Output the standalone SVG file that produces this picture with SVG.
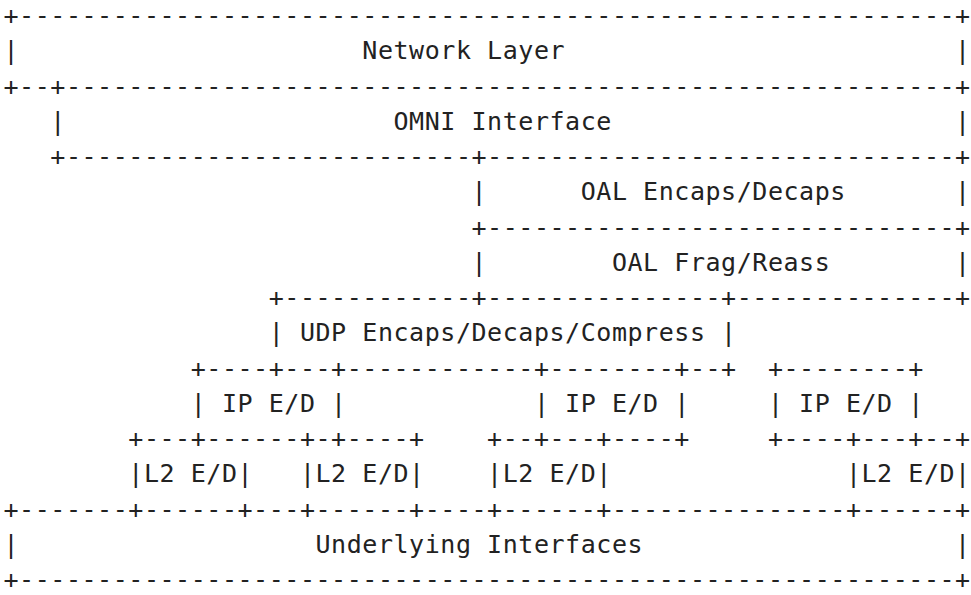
<svg xmlns="http://www.w3.org/2000/svg" width="971" height="595" viewBox="0 0 971 595">
<style>
text { font-family: "DejaVu Sans Mono", "Liberation Mono", monospace; font-size: 25px; letter-spacing: 0.549px; fill: #222; white-space: pre; }
</style>
<rect width="971" height="595" fill="#ffffff"/>
<g id="connectors">
<text x="3.5" y="24.2">+------------------------------------------------------------+</text>
<text x="3.5" y="94.7">+--+---------------------------------------------------------+</text>
<text x="50.3" y="165.2">+--------------------------+------------------------------+</text>
<text x="471.5" y="235.7">+------------------------------+</text>
<text x="268.7" y="306.2">+------------+---------------+--------------+</text>
<text x="190.7" y="376.7">+----+---+------------+--------+--+</text>
<text x="767.9" y="376.7">+--------+</text>
<text x="128.3" y="447.2">+---+------+-+----+</text>
<text x="487.1" y="447.2">+--+---+----+</text>
<text x="767.9" y="447.2">+----+---+--+</text>
<text x="3.5" y="517.7">+-------+------+---+------+----+------+---------------+------+</text>
<text x="3.5" y="588.2">+------------------------------------------------------------+</text>
</g>
<g id="network-layer">
<text x="3.5" y="59.45">|</text>
<text x="362.3" y="59.45">Network Layer</text>
<text x="955.1" y="59.45">|</text>
</g>
<g id="omni-interface">
<text x="50.3" y="129.95">|</text>
<text x="393.5" y="129.95">OMNI Interface</text>
<text x="955.1" y="129.95">|</text>
</g>
<g id="oal-encaps-decaps">
<text x="471.5" y="200.45">|</text>
<text x="580.7" y="200.45">OAL Encaps/Decaps</text>
<text x="955.1" y="200.45">|</text>
</g>
<g id="oal-frag-reass">
<text x="471.5" y="270.95">|</text>
<text x="611.9" y="270.95">OAL Frag/Reass</text>
<text x="955.1" y="270.95">|</text>
</g>
<g id="udp-encaps">
<text x="268.7" y="341.45">|</text>
<text x="299.9" y="341.45">UDP Encaps/Decaps/Compress</text>
<text x="721.1" y="341.45">|</text>
</g>
<g id="ip-ed-1">
<text x="190.7" y="411.95">| IP E/D |</text>
</g>
<g id="ip-ed-2">
<text x="533.9" y="411.95">| IP E/D |</text>
</g>
<g id="ip-ed-3">
<text x="767.9" y="411.95">| IP E/D |</text>
</g>
<g id="l2-ed-1">
<text x="128.3" y="482.45">|L2 E/D|</text>
</g>
<g id="l2-ed-2">
<text x="299.9" y="482.45">|L2 E/D|</text>
</g>
<g id="l2-ed-3">
<text x="487.1" y="482.45">|L2 E/D|</text>
</g>
<g id="l2-ed-4">
<text x="845.9" y="482.45">|L2 E/D|</text>
</g>
<g id="underlying-interfaces">
<text x="3.5" y="552.95">|</text>
<text x="315.5" y="552.95">Underlying Interfaces</text>
<text x="955.1" y="552.95">|</text>
</g>
</svg>
